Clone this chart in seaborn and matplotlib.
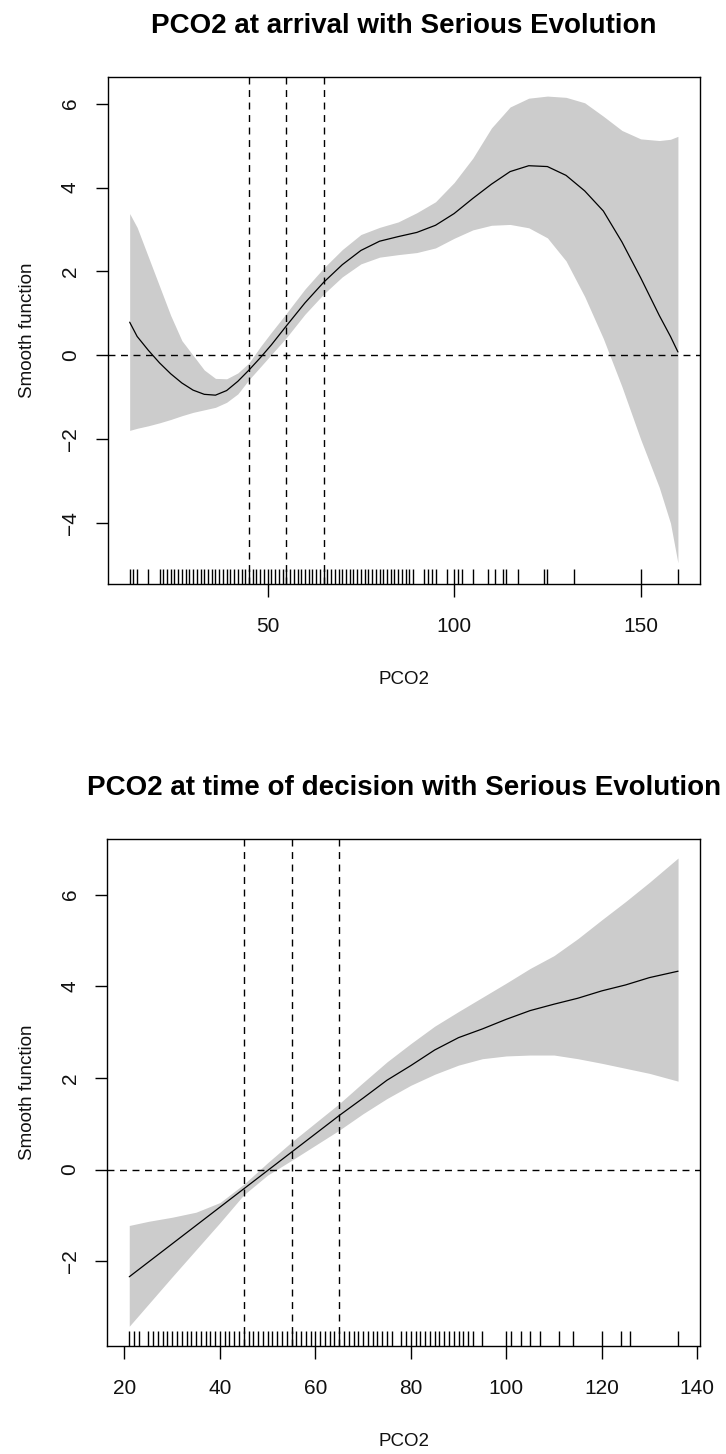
import matplotlib
matplotlib.use("Agg")
import seaborn as sns
import matplotlib.pyplot as plt

# Panel 1: PCO2 al ingreso
pco2_llegada = [13, 15, 18, 21, 24, 27, 30, 33, 36, 39, 42, 45, 48, 51, 55, 60, 65, 70, 75, 80,
                85, 90, 95, 100, 105, 110, 115, 120, 125, 130, 135, 140, 145, 150, 155, 158, 160]
ajuste_llegada = [0.79, 0.45, 0.12, -0.18, -0.44, -0.66, -0.83, -0.93, -0.95, -0.84, -0.62, -0.35, -0.06, 0.25,
                  0.70, 1.25, 1.74, 2.16, 2.50, 2.72, 2.83, 2.93, 3.10, 3.38, 3.74, 4.08, 4.38, 4.52, 4.50,
                  4.29, 3.92, 3.44, 2.70, 1.85, 0.95, 0.45, 0.08]
sup_llegada = [3.38, 3.05, 2.35, 1.65, 0.95, 0.35, 0.00, -0.35, -0.55, -0.56, -0.42, -0.18, 0.20, 0.55,
               1.00, 1.58, 2.08, 2.52, 2.88, 3.05, 3.18, 3.40, 3.66, 4.12, 4.70, 5.42, 5.92, 6.13, 6.18,
               6.15, 6.02, 5.70, 5.36, 5.16, 5.12, 5.15, 5.22]
inf_llegada = [-1.79, -1.74, -1.68, -1.61, -1.53, -1.44, -1.36, -1.30, -1.24, -1.12, -0.92, -0.58, -0.28, 0.02,
               0.42, 0.98, 1.46, 1.87, 2.18, 2.34, 2.40, 2.45, 2.56, 2.79, 2.99, 3.10, 3.12, 3.04, 2.80,
               2.25, 1.40, 0.40, -0.75, -2.00, -3.15, -4.00, -4.95]
rug_llegada = [13, 14, 15, 18, 21, 22, 23, 24, 25, 26, 27, 28, 29, 30, 31, 32, 33, 34, 35, 36, 37, 38, 39, 40,
               41, 42, 43, 44, 45, 46, 47, 48, 49, 50, 51, 52, 53, 54, 55, 56, 57, 58, 59, 60, 61, 62, 63, 64,
               65, 66, 67, 68, 69, 70, 71, 72, 73, 74, 75, 76, 77, 78, 79, 80, 81, 82, 83, 84, 85, 86, 87, 88,
               89, 92, 93, 94, 95, 98, 100, 101, 102, 105, 109, 111, 113, 114, 117, 124, 125, 132, 150, 160]

# Panel 2: PCO2 al momento de la decision
pco2_decision = [21, 25, 30, 35, 40, 45, 50, 55, 60, 65, 70, 75, 80, 85, 90, 95, 100, 105, 110, 115,
                 120, 125, 130, 136]
ajuste_decision = [-2.34, -2.02, -1.62, -1.22, -0.82, -0.42, -0.02, 0.38, 0.78, 1.18, 1.56, 1.95, 2.27, 2.61,
                   2.88, 3.07, 3.28, 3.47, 3.61, 3.74, 3.90, 4.03, 4.19, 4.33]
sup_decision = [-1.22, -1.13, -1.04, -0.93, -0.72, -0.32, 0.15, 0.60, 1.02, 1.44, 1.90, 2.35, 2.75, 3.13,
                3.45, 3.76, 4.07, 4.39, 4.67, 5.04, 5.45, 5.85, 6.27, 6.80]
inf_decision = [-3.42, -2.94, -2.34, -1.75, -1.16, -0.55, -0.12, 0.20, 0.53, 0.86, 1.22, 1.55, 1.84, 2.08,
                2.28, 2.42, 2.48, 2.50, 2.50, 2.42, 2.32, 2.21, 2.10, 1.93]
rug_decision = [21, 22, 23, 25, 26, 27, 28, 29, 30, 31, 32, 33, 34, 35, 36, 37, 38, 39, 40, 41, 42, 43, 44,
                45, 46, 47, 48, 49, 50, 51, 52, 53, 54, 55, 56, 57, 58, 59, 60, 61, 62, 63, 64, 65, 66, 67,
                68, 69, 70, 71, 72, 73, 74, 75, 76, 78, 79, 80, 81, 82, 83, 84, 85, 86, 87, 88, 89, 90, 91,
                92, 93, 95, 100, 101, 103, 105, 107, 111, 114, 120, 124, 126, 136]

cortes = [45, 55, 65]
titulos = ["PCO2 at arrival with Serious Evolution",
           "PCO2 at time of decision with Serious Evolution"]
ticks_x = [[50, 100, 150], [20, 40, 60, 80, 100, 120, 140]]
ticks_y = [[-4, -2, 0, 2, 4, 6], [-2, 0, 2, 4, 6]]

sns.set_style("white")
plt.rcParams["font.family"] = ["Liberation Sans", "DejaVu Sans"]
plt.rcParams["text.color"] = "black"

fig = plt.figure(figsize=(7.26, 14.54), dpi=100)
ax1 = fig.add_axes([0.1483, 0.5984, 0.8158, 0.3485])
ax2 = fig.add_axes([0.1478, 0.0743, 0.8164, 0.3485])

paneles = [
    (ax1, pco2_llegada, ajuste_llegada, sup_llegada, inf_llegada, rug_llegada, (7.1, 165.9), (-5.45, 6.63)),
    (ax2, pco2_decision, ajuste_decision, sup_decision, inf_decision, rug_decision, (16.4, 140.6), (-3.85, 7.21)),
]

guion = (0, (5, 4))
for i, (ax, x, fit, sup, inf, rug, xl, yl) in enumerate(paneles):
    # banda de confianza
    ax.fill_between(x, inf, sup, color="#CCCCCC", lw=0, zorder=1)
    for c in cortes:
        ax.axvline(c, color="black", lw=1.0, ls=guion, zorder=2)
    ax.axhline(0, color="black", lw=1.0, ls=guion, zorder=2)
    sns.lineplot(x=x, y=fit, ax=ax, color="black", lw=0.9, zorder=3)
    sns.rugplot(x=rug, ax=ax, height=0.03, color="black", lw=1.4, expand_margins=False, zorder=4)

    ax.set_xlim(*xl)
    ax.set_ylim(*yl)
    ax.set_xticks(ticks_x[i])
    ax.set_yticks(ticks_y[i])
    ax.tick_params(bottom=True, left=True, length=9, width=1.0, color="black",
                   labelsize=15, labelcolor="#111111")
    ax.tick_params(axis="x", pad=15)
    ax.tick_params(axis="y", pad=11)
    plt.setp(ax.get_yticklabels(), rotation=90, va="center")
    for s in ax.spines.values():
        s.set_color("black")
        s.set_linewidth(1.0)

    ax.set_title(titulos[i], fontsize=20, fontweight="bold", color="black", pad=32)
    ax.set_xlabel("PCO2", fontsize=13.5, color="#111111")
    ax.set_ylabel("Smooth function", fontsize=13.5, color="#111111")
    ax.xaxis.set_label_coords(0.5, -0.1725)
    ax.yaxis.set_label_coords(-0.121, 0.5)

fig.savefig("out.png", dpi=100)
